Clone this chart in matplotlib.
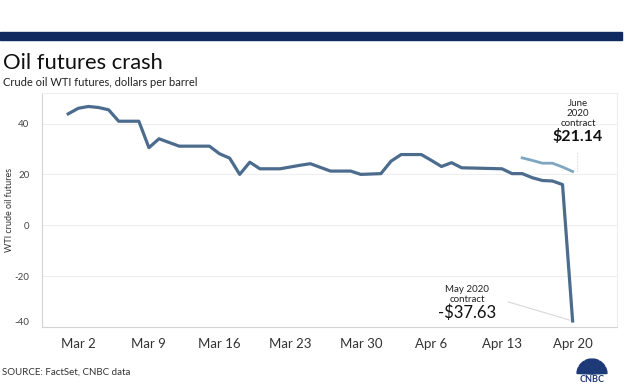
import pandas as pd
import matplotlib
matplotlib.use('Agg')
import matplotlib.pyplot as plt
from matplotlib.patches import Rectangle, Wedge

plt.rcParams['font.family'] = ['Lato', 'DejaVu Sans']

may_dates = ['2020-03-01', '2020-03-02', '2020-03-03', '2020-03-04', '2020-03-05',
             '2020-03-06', '2020-03-08', '2020-03-09', '2020-03-10', '2020-03-12',
             '2020-03-15', '2020-03-16', '2020-03-17', '2020-03-18', '2020-03-19',
             '2020-03-20', '2020-03-22', '2020-03-24', '2020-03-25', '2020-03-27',
             '2020-03-29', '2020-03-30', '2020-04-01', '2020-04-02', '2020-04-03',
             '2020-04-05', '2020-04-06', '2020-04-07', '2020-04-08', '2020-04-09',
             '2020-04-13', '2020-04-14', '2020-04-15', '2020-04-16', '2020-04-17',
             '2020-04-18', '2020-04-19', '2020-04-20']
may_vals = [43.8, 46.0, 46.7, 46.3, 45.4,
            40.9, 40.9, 30.5, 34.0, 31.1,
            31.1, 28.1, 26.4, 20.0, 24.8,
            22.2, 22.2, 23.6, 24.2, 21.3,
            21.3, 20.0, 20.3, 25.2, 27.8,
            27.8, 25.5, 23.1, 24.6, 22.6,
            22.2, 20.3, 20.3, 18.7, 17.6,
            17.4, 16.0, -37.63]

# June 2020 contract
june_dates = ['2020-04-15', '2020-04-16', '2020-04-17', '2020-04-18', '2020-04-19', '2020-04-20']
june_vals = [26.5, 25.5, 24.4, 24.4, 22.9, 21.14]

tick_dates = ['2020-03-02', '2020-03-09', '2020-03-16', '2020-03-23',
              '2020-03-30', '2020-04-06', '2020-04-13', '2020-04-20']
tick_labels = ['Mar 2', 'Mar 9', 'Mar 16', 'Mar 23', 'Mar 30', 'Apr 6', 'Apr 13', 'Apr 20']
y_ticks = [-40, -20, 0, 20, 40]

W, H = 631, 386


def fx(x):
    return x / W


def fy(y):
    return 1 - y / H


fig = plt.figure(figsize=(W / 100, H / 100), dpi=100)
fig.patch.set_facecolor('white')

# navy bar on top
fig.patches.append(Rectangle((0, fy(40)), fx(622), 8 / H, transform=fig.transFigure,
                             color='#0f2a5e', zorder=0))
fig.text(fx(3), fy(69), 'Oil futures crash', fontsize=15.8, color='#111111', va='baseline')
fig.text(fx(3), fy(82), 'Crude oil WTI futures, dollars per barrel', fontsize=8,
         color='#222222', va='center')
fig.text(fx(2), fy(372), 'SOURCE: FactSet, CNBC data', fontsize=7, color='#333333', va='center')

ax = fig.add_axes([fx(42), fy(327), fx(617) - fx(42), (327 - 93) / H])

may_x = pd.to_datetime(may_dates)
june_x = pd.to_datetime(june_dates)
ax.plot(may_x, may_vals, color='#4c6c8e', lw=2.3, solid_joinstyle='round', zorder=3)
ax.plot(june_x, june_vals, color='#7ea6c0', lw=2.0, solid_joinstyle='round', zorder=3)

d0 = pd.Timestamp('2020-03-02')
ax.set_xlim(d0 - pd.Timedelta(days=3.6), d0 + pd.Timedelta(days=53.4))
ax.set_ylim(-40, 52)

ax.set_xticks(pd.to_datetime(tick_dates))
ax.set_xticklabels(tick_labels)
ax.set_yticks(y_ticks)
ax.set_yticklabels([str(v) for v in y_ticks])
ax.tick_params(axis='x', length=0, pad=8, labelsize=9.5, labelcolor='#333333')
ax.tick_params(axis='y', length=0, pad=9, labelsize=7, labelcolor='#444444')
ax.get_yticklabels()[0].set_va('bottom')
ax.grid(axis='y', color='#eeeeee', lw=0.8)
ax.set_axisbelow(True)
for side in ['top', 'right']:
    ax.spines[side].set_color('#eeeeee')
for side in ['left', 'bottom']:
    ax.spines[side].set_color('#d4d4d4')
ax.set_ylabel('WTI crude oil futures', fontsize=6.5, color='#333333')
ax.yaxis.set_label_coords(-0.049, 0.5)

# leader lines
ax.annotate('', xy=(pd.Timestamp('2020-04-20'), -37.63),
            xytext=(pd.Timestamp('2020-04-13 08:00'), -29.8),
            arrowprops=dict(arrowstyle='-', color='#d8d8d8', lw=0.8))
ax.annotate('', xy=(pd.Timestamp('2020-04-20 12:00'), 19.5),
            xytext=(pd.Timestamp('2020-04-20 12:00'), 29.5),
            arrowprops=dict(arrowstyle='-', color='#e2e2e2', lw=0.8, linestyle=':'))

# annotation texts
fig.text(fx(578), fy(103), 'June', fontsize=7, ha='center', va='center', color='#222222')
fig.text(fx(578), fy(113), '2020', fontsize=7, ha='center', va='center', color='#222222')
fig.text(fx(578), fy(124), 'contract', fontsize=7, ha='center', va='center', color='#222222')
fig.text(fx(578), fy(137), '$21.14', fontsize=11.5, fontweight='bold', ha='center',
         va='center', color='#111111')
fig.text(fx(467), fy(289), 'May 2020', fontsize=7, ha='center', va='center', color='#222222')
fig.text(fx(467), fy(299), 'contract', fontsize=7, ha='center', va='center', color='#222222')
fig.text(fx(467), fy(313), '-$37.63', fontsize=12, ha='center', va='center', color='#111111')

# CNBC peacock logo
lax = fig.add_axes([fx(572), fy(384), fx(40), 34 / H])
lax.set_xlim(0, 40)
lax.set_ylim(0, 34)
lax.axis('off')
for k in range(6):
    a1 = 180 - k * 30
    lax.add_patch(Wedge((20, 10), 15, a1 - 28, a1 - 2, color='#1d3a78'))
lax.text(20, 4, 'CNBC', fontsize=6.5, fontweight='bold', ha='center', va='center', color='#1d3a78')

fig.savefig('out.png', dpi=100)
